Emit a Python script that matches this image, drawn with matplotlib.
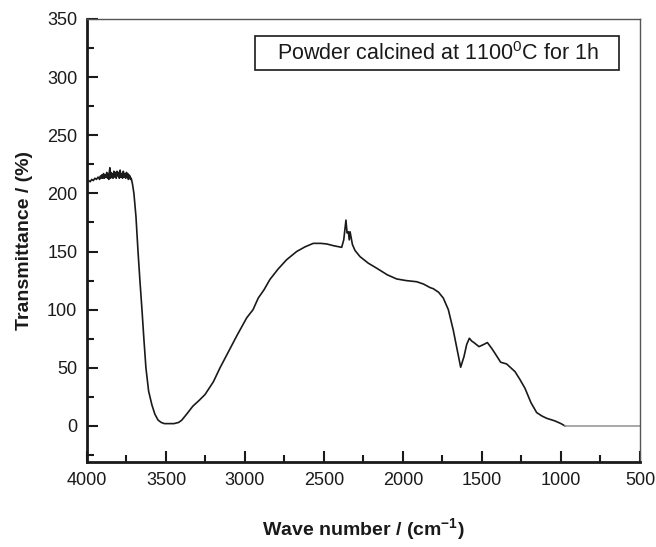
import matplotlib
matplotlib.use('Agg')
import matplotlib.pyplot as plt
from matplotlib.ticker import MultipleLocator
from matplotlib.patches import Rectangle
import numpy as np

plt.rcParams['font.family'] = ['Liberation Sans', 'DejaVu Sans']

# FTIR spectrum (wavenumber in cm-1, transmittance in %)
wavenumber = [4000, 3990, 3980, 3970, 3960, 3950, 3940, 3930, 3920, 3915,
              3910, 3905, 3900, 3895, 3890, 3885, 3880, 3875, 3870, 3866,
              3862, 3858, 3855, 3851, 3848, 3844, 3840, 3835, 3830, 3825,
              3820, 3815, 3810, 3805, 3800, 3795, 3790, 3785, 3780, 3775,
              3770, 3765, 3760, 3755, 3750, 3746, 3742, 3738, 3735, 3731,
              3728, 3724, 3720, 3712, 3703, 3690, 3677, 3665, 3652, 3640,
              3627, 3610, 3589, 3570, 3550, 3530, 3510, 3490, 3475, 3450,
              3420, 3400, 3370, 3330, 3290, 3253, 3200, 3158, 3100, 3050,
              2989, 2949, 2916, 2880, 2842, 2790, 2736, 2673, 2620, 2568,
              2520, 2483, 2440, 2388, 2375, 2361, 2354, 2346, 2340, 2335,
              2320, 2304, 2272, 2220, 2166, 2100, 2040, 1980, 1913, 1870,
              1829, 1808, 1775, 1745, 1713, 1682, 1656, 1635, 1614, 1597,
              1580, 1565, 1551, 1519, 1490, 1466, 1440, 1418, 1382, 1344,
              1291, 1260, 1228, 1190, 1154, 1120, 1091, 1038, 1000, 975,
              900, 800, 700, 600, 500]
transmittance = [211, 211, 210, 212, 211, 213, 212, 214, 212, 215,
                 213, 216, 213, 217, 213, 216, 214, 218, 213, 217,
                 212, 219, 222, 213, 218, 214, 217, 213, 219, 214,
                 218, 213, 219, 215, 218, 213, 220, 214, 217, 213,
                 219, 214, 217, 213, 218, 214, 217, 212, 216, 213,
                 215, 212, 213, 208, 200, 180, 150, 125, 100, 75,
                 50, 30, 18, 10, 5, 3, 2, 2, 2, 2,
                 3, 5, 10, 17, 22, 27, 38, 50, 65, 78,
                 93, 100, 110, 117, 126, 135, 143, 150, 154, 157,
                 157, 156.5, 155, 153.6, 160, 177, 166, 167, 160, 167,
                 156, 151, 145.6, 140, 135.6, 130, 126.4, 125, 124, 122,
                 119, 118, 115, 110, 100, 82.5, 65, 50.5, 59.6, 70,
                 75.4, 73, 71.7, 68.2, 70, 71.7, 67, 62.5, 54.8, 53.3,
                 46.7, 40, 32.4, 20, 11.5, 8.5, 6.6, 4.3, 2, 0,
                 0, 0, 0, 0, 0]

annotation = 'Powder calcined at 1100$^{\\mathregular{0}}$C for 1h'

wn = np.array(wavenumber, dtype=float)
tr = np.array(transmittance, dtype=float)

fig = plt.figure(figsize=(6.56, 5.47), dpi=100)
ax = fig.add_axes([0.1326, 0.1554, 0.843, 0.81])

ax.plot(wn[wn >= 975], tr[wn >= 975], color='#1a1a1a', linewidth=1.2)
ax.plot(wn[wn <= 975], tr[wn <= 975], color='#999999', linewidth=1.2)

ax.set_xlim(4000, 500)
ax.set_ylim(-31, 350)
ax.xaxis.set_major_locator(MultipleLocator(500))
ax.xaxis.set_minor_locator(MultipleLocator(250))
ax.yaxis.set_major_locator(MultipleLocator(50))
ax.yaxis.set_minor_locator(MultipleLocator(25))

ax.tick_params(which='both', direction='in', top=False, right=False,
               labelsize=13, colors='#1a1a1a', pad=7)
ax.tick_params(which='major', length=8, width=1.5)
ax.tick_params(which='minor', length=5, width=1.5)

for side in ['left', 'bottom']:
    ax.spines[side].set_linewidth(2)
    ax.spines[side].set_color('#1a1a1a')
for side in ['top', 'right']:
    ax.spines[side].set_linewidth(1)
    ax.spines[side].set_color('#555555')

ax.set_xlabel('Wave number / (cm$^{\\mathregular{-1}}$)', fontsize=14,
              fontweight='bold', labelpad=20, color='#1a1a1a')
ax.set_ylabel('Transmittance / (%)', fontsize=14, fontweight='bold',
              labelpad=10, color='#1a1a1a')

# label box
ax.add_patch(Rectangle((0.304, 0.885), 0.658, 0.077, transform=ax.transAxes,
                       facecolor='white', edgecolor='#1a1a1a', linewidth=1.2))
ax.text(0.634, 0.922, annotation, transform=ax.transAxes, ha='center', va='center',
        fontsize=15.5, color='#1a1a1a')

fig.savefig('out.png', dpi=100)
